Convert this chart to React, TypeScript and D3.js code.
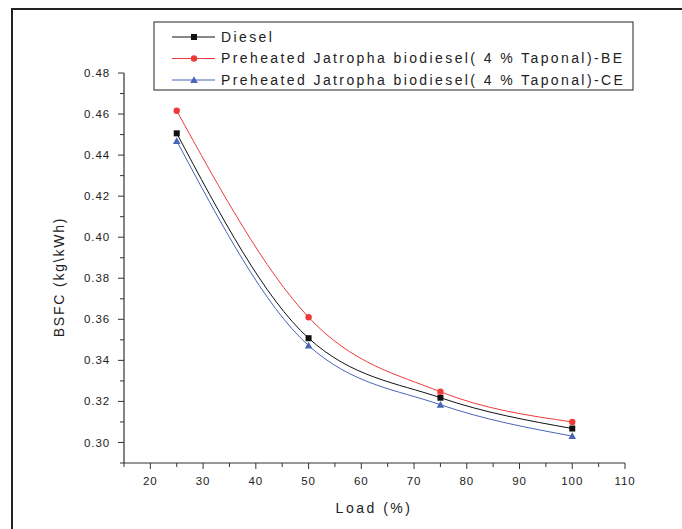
import * as d3 from 'd3';

const loads = [25, 50, 75, 100];
const diesel = [0.4506, 0.3508, 0.3218, 0.3068];
const biodieselBE = [0.4616, 0.361, 0.3247, 0.31];
const biodieselCE = [0.4469, 0.3472, 0.3184, 0.3031];

const seriesNames = [
  'Diesel',
  'Preheated Jatropha biodiesel( 4 % Taponal)-BE',
  'Preheated Jatropha biodiesel( 4 % Taponal)-CE',
];
const seriesColours = ['#111111', '#f03a3a', '#4a64b8'];
const seriesMarkers = ['square', 'circle', 'triangle'];

const xTicks = [20, 30, 40, 50, 60, 70, 80, 90, 100, 110];
const yTicks = [0.3, 0.32, 0.34, 0.36, 0.38, 0.4, 0.42, 0.44, 0.46, 0.48];

const FONT = '"Liberation Sans", Arial, sans-serif';

function Marker({ kind, x, y, colour }: { kind: string; x: number; y: number; colour: string }) {
  if (kind === 'square') {
    return <rect x={x - 3} y={y - 3} width={6} height={6} fill={colour} />;
  }
  if (kind === 'circle') {
    return <circle cx={x} cy={y} r={3.2} fill={colour} />;
  }
  return <path d={`M${x},${y - 3.8}L${x + 3.8},${y + 3}L${x - 3.8},${y + 3}Z`} fill={colour} />;
}

export default function App() {
  const width = 682;
  const height = 529;

  const x = d3.scaleLinear().domain([15, 110]).range([124, 625]);
  const y = d3.scaleLinear().domain([0.29, 0.48]).range([463, 73]);

  const line = d3.line<[number, number]>()
    .x(d => x(d[0]))
    .y(d => y(d[1]))
    .curve(d3.curveMonotoneX);

  const allSeries = [diesel, biodieselBE, biodieselCE];
  const xMinor = d3.range(15, 111, 5).filter(v => !xTicks.includes(v));
  const yMinor = d3.range(0.29, 0.4801, 0.01).map(v => +v.toFixed(2)).filter(v => !yTicks.some(t => Math.abs(t - v) < 1e-6));

  const legendX = 154;
  const legendY = 22;
  const rowGap = 21.5;

  return (
    <svg
      width={width}
      height={height}
      style={{ position: 'fixed', left: 0, top: 0, background: '#fff', fontFamily: FONT }}
    >
      {/* outer frame, only left and top edges show */}
      <line x1={11} x2={width} y1={9} y2={9} stroke="#222" strokeWidth={2} />
      <line x1={12} x2={12} y1={9} y2={height} stroke="#222" strokeWidth={2} />

      {/* y axis */}
      <line x1={124} x2={124} y1={y(0.48)} y2={y(0.29)} stroke="#333" strokeWidth={1.2} />
      {yTicks.map(t => (
        <g key={t} transform={`translate(124,${y(t)})`}>
          <line x2={-6} stroke="#333" />
          <text x={-14} dy="0.35em" textAnchor="end" fontSize={11.5} letterSpacing={0.9} fill="#222">
            {t.toFixed(2)}
          </text>
        </g>
      ))}
      {yMinor.map(t => (
        <line key={t} x1={124} x2={120} y1={y(t)} y2={y(t)} stroke="#333" />
      ))}

      {/* x axis */}
      <line x1={124} x2={625} y1={463} y2={463} stroke="#333" strokeWidth={1.2} />
      {xTicks.map(t => (
        <g key={t} transform={`translate(${x(t)},463)`}>
          <line y2={6} stroke="#333" />
          <text y={22} textAnchor="middle" fontSize={11.5} letterSpacing={0.9} fill="#222">
            {t}
          </text>
        </g>
      ))}
      {xMinor.map(t => (
        <line key={t} x1={x(t)} x2={x(t)} y1={463} y2={467} stroke="#333" />
      ))}

      {/* axis titles */}
      <text
        transform="translate(64,277) rotate(-90)"
        textAnchor="middle"
        fontSize={14}
        letterSpacing={1.8}
        fill="#222"
      >
        BSFC (kg\kWh)
      </text>
      <text x={374} y={513} textAnchor="middle" fontSize={14} letterSpacing={2.5} fill="#222">
        Load (%)
      </text>

      {/* series */}
      {allSeries.map((vals, i) => {
        const pts = loads.map((l, j) => [l, vals[j]] as [number, number]);
        return (
          <g key={seriesNames[i]}>
            <path d={line(pts) || ''} fill="none" stroke={seriesColours[i]} strokeWidth={1} />
            {pts.map((p, j) => (
              <Marker key={j} kind={seriesMarkers[i]} x={x(p[0])} y={y(p[1])} colour={seriesColours[i]} />
            ))}
          </g>
        );
      })}

      {/* legend */}
      <rect x={legendX} y={legendY} width={479} height={68} fill="#fff" stroke="#222" strokeWidth={1} />
      {seriesNames.map((name, i) => {
        const ry = legendY + 15 + i * rowGap;
        return (
          <g key={name}>
            <line x1={172} x2={215} y1={ry} y2={ry} stroke={seriesColours[i]} strokeWidth={1} />
            <Marker kind={seriesMarkers[i]} x={194} y={ry} colour={seriesColours[i]} />
            <text x={221} y={ry} dy="0.35em" fontSize={14} letterSpacing={2.4} fill="#222">
              {name}
            </text>
          </g>
        );
      })}
    </svg>
  );
}
